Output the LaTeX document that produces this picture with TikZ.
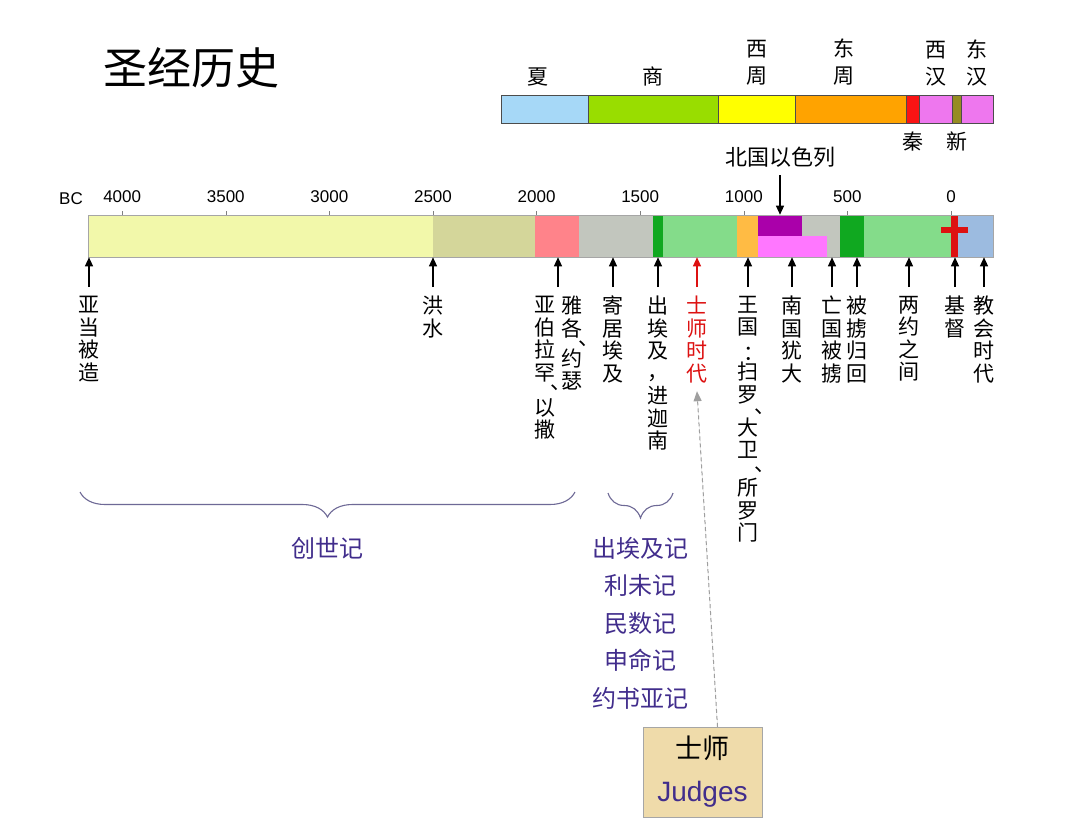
\documentclass[tikz,border=0pt]{standalone}
\usepackage{fontspec}
\setmainfont{Noto Sans CJK SC}
\newfontfamily\latin{Liberation Sans}
\usepackage{xcolor}
\usepackage{tikz}
\usetikzlibrary{arrows.meta,positioning,fit,decorations.pathreplacing}

\definecolor{xiaC}{RGB}{166,216,247}
\definecolor{shangC}{RGB}{153,221,0}
\definecolor{xizhouC}{RGB}{255,255,0}
\definecolor{dongzhouC}{RGB}{255,163,0}
\definecolor{qinC}{RGB}{250,20,20}
\definecolor{hanC}{RGB}{238,119,238}
\definecolor{xinC}{RGB}{150,140,35}
\definecolor{preC}{RGB}{242,248,170}
\definecolor{floodC}{RGB}{212,214,154}
\definecolor{patC}{RGB}{255,131,138}
\definecolor{egyC}{RGB}{194,198,190}
\definecolor{exoC}{RGB}{16,168,32}
\definecolor{judgC}{RGB}{132,220,138}
\definecolor{kingC}{RGB}{255,187,68}
\definecolor{northC}{RGB}{170,0,170}
\definecolor{southC}{RGB}{255,119,255}
\definecolor{christC}{RGB}{221,17,17}
\definecolor{churchC}{RGB}{156,187,224}
\definecolor{braceC}{RGB}{110,105,150}
\definecolor{bookC}{RGB}{65,45,140}
\definecolor{parchC}{RGB}{239,219,170}

\newcommand{\vmark}[2]{\rlap{\hspace{#1}#2}}

\begin{document}
\begin{tikzpicture}[
  x=1pt, y=1pt,
  dyn/.style={draw=black!70, line width=0.6pt, minimum height=28pt, inner sep=0, outer sep=0},
  dynlabel/.style={font=\fontsize{21}{27}\selectfont, align=center, inner sep=0},
  seg/.style={minimum height=42pt, inner sep=0, outer sep=0},
  year/.style={font=\latin\fontsize{17}{17}\selectfont, inner sep=0},
  tick/.style={draw=gray, line width=0.6pt},
  event/.style={font=\fontsize{21}{22.5}\selectfont, align=center, inner sep=0, anchor=north},
  arrow/.style={-{Triangle[length=9pt,width=8pt]}, line width=1.2pt},
  dasharrow/.style={-{Triangle[length=10pt,width=8pt]}, draw=gray!75, fill=gray!75,
                    dash pattern=on 4pt off 3pt, line width=1pt},
  book/.style={font=\fontsize{24}{37.5}\selectfont, text=bookC, align=center, inner sep=0},
  bookbrace/.style={decorate, decoration={brace, amplitude=25pt}, draw=braceC, line width=1.1pt},
  judgebox/.style={draw=gray!70, fill=parchC, minimum width=119pt, minimum height=90pt,
                   align=center, inner sep=0, font=\fontsize{27}{43}\selectfont}
]
\path[use as bounding box, fill=white] (0,0) rectangle (1080,-823);

\node[font=\fontsize{44}{44}\selectfont, inner sep=0] (title) at (191,-68) {圣经历史};

% dynasties
\node[dyn, fill=xiaC, minimum width=87pt, anchor=north west] (xia) at (501,-95) {};
\node[dyn, fill=shangC, minimum width=130pt, right=0pt of xia] (shang) {};
\node[dyn, fill=xizhouC, minimum width=77pt, right=0pt of shang] (xizhou) {};
\node[dyn, fill=dongzhouC, minimum width=111pt, right=0pt of xizhou] (dongzhou) {};
\node[dyn, fill=qinC, minimum width=13pt, right=0pt of dongzhou] (qin) {};
\node[dyn, fill=hanC, minimum width=33pt, right=0pt of qin] (xihan) {};
\node[dyn, fill=xinC, minimum width=9pt, right=0pt of xihan] (xin) {};
\node[dyn, fill=hanC, minimum width=32pt, right=0pt of xin] (donghan) {};
\node[dynlabel, above=9pt of xia, xshift=-7pt] (lxia) {夏};
\node[dynlabel, above=9pt of shang] (lshang) {商};
\node[dynlabel, above=9pt of xizhou] (lxizhou) {西\\周};
\node[dynlabel, above=9pt of dongzhou, xshift=-7pt] (ldongzhou) {东\\周};
\node[dynlabel, above=9pt of xihan] (lxihan) {西\\汉};
\node[dynlabel, above=9pt of donghan] (ldonghan) {东\\汉};
\node[dynlabel, below=9pt of qin] (lqin) {秦};
\node[dynlabel, below=9pt of xin] (lxin) {新};

% timeline
\node[seg, fill=preC, minimum width=345pt, anchor=north west] (pre) at (88,-215) {};
\node[seg, fill=floodC, minimum width=102pt, right=0pt of pre] (flood) {};
\node[seg, fill=patC, minimum width=44pt, right=0pt of flood] (patr) {};
\node[seg, fill=egyC, minimum width=74pt, right=0pt of patr] (egypt) {};
\node[seg, fill=exoC, minimum width=10pt, right=0pt of egypt] (exodus) {};
\node[seg, fill=judgC, minimum width=74pt, right=0pt of exodus] (judgeage) {};
\node[seg, fill=kingC, minimum width=21pt, right=0pt of judgeage] (kingdom) {};
\node[seg, fill=egyC, minimum width=82pt, right=0pt of kingdom] (divided) {};
\node[seg, fill=exoC, minimum width=24pt, right=0pt of divided] (exile) {};
\node[seg, fill=judgC, minimum width=87pt, right=0pt of exile] (between) {};
\node[seg, fill=christC, minimum width=7pt, right=0pt of between] (christ) {};
\node[seg, fill=churchC, minimum width=35pt, right=0pt of christ] (church) {};
\node[seg, fill=northC, minimum width=44pt, minimum height=21pt, anchor=north west] (israel) at (divided.north west) {};
\node[seg, fill=southC, minimum width=69pt, minimum height=21pt, anchor=south west] (judah) at (divided.south west) {};
\node[seg, fill=christC, minimum width=27pt, minimum height=6pt] (cross) at (954.5,-229.5) {};
\node[fit=(pre)(church), draw=gray!70, line width=0.6pt, inner sep=0] (bar) {};

\node[year] (bc) at (71,-199) {BC};
\foreach \yr/\px in {4000/122.2, 3500/225.8, 3000/329.4, 2500/433, 2000/536.6,
                     1500/640.2, 1000/743.8, 500/847.4, 0/951} {
  \node[year] (y\yr) at (\px,-197) {\yr};
  \draw[tick] (\px,-211) -- (\px,-215);
}

\node[font=\fontsize{22}{22}\selectfont, inner sep=0] (northlbl) at (780,-157) {北国以色列};
\draw[arrow, shorten <=8pt] (northlbl.south) -- (northlbl.south |- bar.north);

% events
\coordinate (tadam) at (89,-287);
\coordinate (tflood) at (433,-287);
\coordinate (tabr) at (558,-287);
\coordinate (tegypt) at (613,-287);
\coordinate (texodus) at (658,-287);
\coordinate (tjudges) at (697,-287);
\coordinate (tking) at (748,-287);
\coordinate (tjudah) at (792,-287);
\coordinate (tfall) at (832,-287);
\coordinate (treturn) at (857,-287);
\coordinate (tbetween) at (909,-287);
\coordinate (tchrist) at (955,-287);
\coordinate (tchurch) at (984,-287);

\node[event, below=9pt of tadam] (adam) {亚\\当\\被\\造};
\node[event, below=9pt of tflood] (noah) {洪\\水};
\node[event, below=9pt of tabr, xshift=-13pt] (abraham) {亚\\伯\\拉\\罕\\[-13pt]\vmark{5pt}{、}\\[3pt]以\\撒};
\node[event, below=9pt of tabr, xshift=14pt] (jacob) {雅\\各\\[-13pt]\vmark{6pt}{、}\\[-2pt]约\\瑟};
\node[event, below=9pt of tegypt] (sojourn) {寄\\居\\埃\\及};
\node[event, below=9pt of texodus] (canaan) {出\\埃\\及\\[-1.5pt]，\\[1.5pt]进\\迦\\南};
\node[event, below=9pt of tjudges, text=christC] (shishi) {士\\师\\时\\代};
\node[event, below=9pt of tking] (kings) {王\\国\\[3.5pt]\vmark{-4.5pt}{：}\\[-3.5pt]扫\\罗\\[-11pt]\vmark{6pt}{、}\\[-1pt]大\\卫\\[-9pt]\vmark{6pt}{、}\\[2pt]所\\罗\\门};
\node[event, below=9pt of tjudah] (southk) {南\\国\\犹\\大};
\node[event, below=9pt of tfall] (fall) {亡\\国\\被\\掳};
\node[event, below=9pt of treturn] (return) {被\\掳\\归\\回};
\node[event, below=9pt of tbetween] (intertest) {两\\约\\之\\间};
\node[event, below=9pt of tchrist] (jesus) {基\\督};
\node[event, below=9pt of tchurch] (churchage) {教\\会\\时\\代};

\draw[arrow] (tadam) -- (tadam |- bar.south);
\draw[arrow] (tflood) -- (tflood |- bar.south);
\draw[arrow] (tabr) -- (tabr |- bar.south);
\draw[arrow] (tegypt) -- (tegypt |- bar.south);
\draw[arrow] (texodus) -- (texodus |- bar.south);
\draw[arrow, christC] (tjudges) -- (tjudges |- bar.south);
\draw[arrow] (tking) -- (tking |- bar.south);
\draw[arrow] (tjudah) -- (tjudah |- bar.south);
\draw[arrow] (tfall) -- (tfall |- bar.south);
\draw[arrow] (treturn) -- (treturn |- bar.south);
\draw[arrow] (tbetween) -- (tbetween |- bar.south);
\draw[arrow] (tchrist) -- (tchrist |- bar.south);
\draw[arrow] (tchurch) -- (tchurch |- bar.south);

% books
\coordinate (genL) at (80,-492);
\coordinate (genR) at (575,-492);
\draw[bookbrace] (genR) -- (genL);
\node[book] (genesis) at (327,-548) {创世记};
\coordinate (exoL) at (608,-493);
\coordinate (exoR) at (673,-493);
\draw[bookbrace] (exoR) -- (exoL);
\node[book, anchor=north] (pentateuch) at (640,-537) {出埃及记\\利未记\\民数记\\申命记\\约书亚记};

\node[judgebox] (judgesbox) at (702.5,-772) {士师\\{\latin\fontsize{28}{43}\selectfont\color{bookC}Judges}};
\draw[dasharrow] ([xshift=15pt]judgesbox.north) -- ([yshift=-8pt]shishi.south);
\end{tikzpicture}
\end{document}
